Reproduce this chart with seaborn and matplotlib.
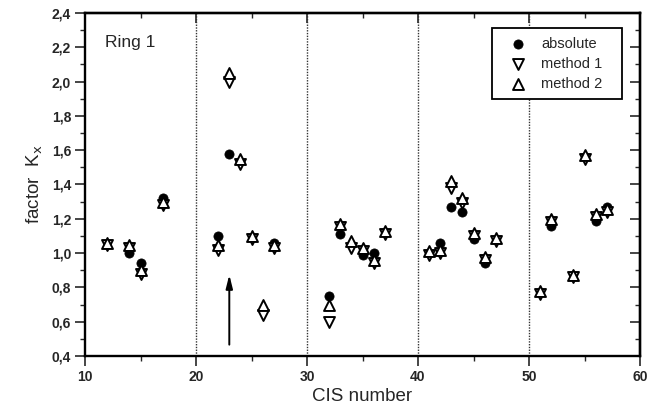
import numpy as np
import pandas as pd
import matplotlib
matplotlib.use("Agg")
import matplotlib.pyplot as plt
from matplotlib.ticker import MultipleLocator, FuncFormatter
import seaborn as sns

# CIS numbers and correction factors K_x for ring 1
cis = [12, 14, 15, 17, 22, 23, 24, 25, 26, 27,
       32, 33, 34, 35, 36, 37, 41, 42, 43, 44,
       45, 46, 47, 51, 52, 54, 55, 56, 57]
absolute = [np.nan, 1.00, 0.94, 1.32, 1.10, 1.58, np.nan, np.nan, np.nan, 1.06,
            0.75, 1.11, np.nan, 0.99, 1.00, np.nan, np.nan, 1.06, 1.27, 1.24,
            1.08, 0.94, np.nan, np.nan, 1.16, np.nan, np.nan, 1.19, 1.27]
method1 = [1.05, 1.03, 0.88, 1.28, 1.02, 2.00, 1.52, 1.08, 0.64, 1.03,
           0.60, 1.15, 1.03, 1.01, 0.94, 1.11, 0.99, 1.00, 1.38, 1.29,
           1.10, 0.96, 1.07, 0.76, 1.18, 0.86, 1.55, 1.21, 1.24]
method2 = [1.06, 1.05, 0.90, 1.30, 1.05, 2.05, 1.55, 1.10, 0.70, 1.05,
           0.70, 1.17, 1.07, 1.03, 0.96, 1.13, 1.01, 1.02, 1.42, 1.32,
           1.12, 0.98, 1.09, 0.78, 1.20, 0.87, 1.57, 1.23, 1.26]
group_borders = [20, 30, 40, 50]
x_ticks = [10, 20, 30, 40, 50, 60]
y_ticks = [0.4, 0.6, 0.8, 1.0, 1.2, 1.4, 1.6, 1.8, 2.0, 2.2, 2.4]

df = pd.DataFrame({"CIS": cis, "absolute": absolute,
                   "method 1": method1, "method 2": method2})

sns.set_style("ticks")
plt.rcParams["font.family"] = ["Liberation Sans", "DejaVu Sans"]

W, H = 649, 412
fig = plt.figure(figsize=(W / 100, H / 100), dpi=100)
ax = fig.add_axes([85 / W, 1 - 356 / H, 555 / W, 343 / H])

for xb in group_borders:
    ax.axvline(xb, color="0.2", lw=1.0, ls=(0, (1, 1)), zorder=1)

sns.scatterplot(data=df, x="CIS", y="absolute", marker="o", s=44,
                color="black", edgecolor="black", linewidth=0.5,
                ax=ax, label="absolute", zorder=3)
sns.scatterplot(data=df, x="CIS", y="method 1", marker="v", s=62,
                facecolor="white", edgecolor="black", linewidth=1.4,
                ax=ax, label="method 1", zorder=4)
sns.scatterplot(data=df, x="CIS", y="method 2", marker="^", s=62,
                facecolor="white", edgecolor="black", linewidth=1.4,
                ax=ax, label="method 2", zorder=5)

ax.annotate("", xy=(23, 0.89), xytext=(23, 0.45),
            arrowprops=dict(arrowstyle="-|>,head_length=0.8,head_width=0.2",
                            color="black", lw=1.4))

ax.text(11.8, 2.23, "Ring 1", fontsize=12.5, va="center", ha="left")

ax.set_xlim(10, 60)
ax.set_ylim(0.4, 2.4)
ax.set_xticks(x_ticks)
ax.set_yticks(y_ticks)
ax.xaxis.set_minor_locator(MultipleLocator(5))
ax.yaxis.set_minor_locator(MultipleLocator(0.1))
comma = FuncFormatter(lambda v, p: f"{v:.1f}".replace(".", ","))
ax.yaxis.set_major_formatter(comma)
ax.tick_params(which="major", direction="out", length=7, width=1.2,
               labelsize=10, pad=3)
ax.tick_params(which="minor", direction="out", length=3.5, width=1.0)
for lab in ax.get_xticklabels() + ax.get_yticklabels():
    lab.set_fontweight("bold")

for s in ax.spines.values():
    s.set_linewidth(1.7)
    s.set_color("black")

# mirrored ticks pointing inwards on top and right
top = ax.secondary_xaxis("top")
top.set_xticks(x_ticks)
top.xaxis.set_minor_locator(MultipleLocator(5))
top.tick_params(which="major", direction="in", length=7, width=1.2, labeltop=False)
top.tick_params(which="minor", direction="in", length=3.5, width=1.0)
top.spines["top"].set_linewidth(1.7)
right = ax.secondary_yaxis("right")
right.set_yticks(y_ticks)
right.yaxis.set_minor_locator(MultipleLocator(0.1))
right.tick_params(which="major", direction="in", length=7, width=1.2, labelright=False)
right.tick_params(which="minor", direction="in", length=3.5, width=1.0)
right.spines["right"].set_linewidth(1.7)

ax.set_xlabel("CIS number", fontsize=13.5, labelpad=3)
ax.set_ylabel(r"factor  K$_\mathrm{x}$", fontsize=13.5, labelpad=5)

leg = ax.legend(loc="upper left", bbox_to_anchor=(0.733, 0.755, 0.235, 0.201),
                mode="expand", borderaxespad=0, frameon=True, fancybox=False,
                edgecolor="black", framealpha=1, fontsize=10.5,
                labelspacing=0.4, handletextpad=0.4, borderpad=0.6,
                handlelength=2.4)
leg.get_frame().set_linewidth(1.3)

fig.savefig("out.png", dpi=100)
